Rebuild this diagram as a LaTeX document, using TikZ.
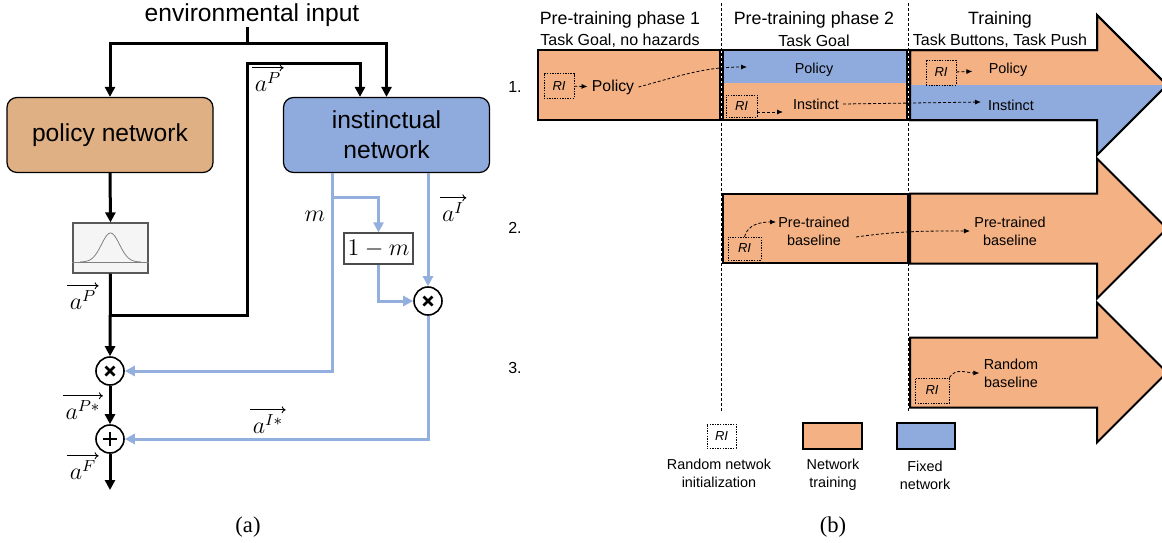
\documentclass[tikz,border=0pt]{standalone}
\usepackage[no-math]{fontspec}
\setmainfont{Liberation Sans}
\newfontfamily\capfont{Liberation Serif}
\usetikzlibrary{
    arrows.meta,
    calc,
    positioning
}

\definecolor{policytan}{RGB}{223,176,131}
\definecolor{instblue}{RGB}{143,170,220}
\definecolor{wireblue}{RGB}{147,175,221}
\definecolor{trainorange}{RGB}{244,177,131}
\definecolor{fixedblue}{RGB}{143,170,220}

\tikzset{
    net/.style={draw, rounded corners=5pt, line width=0.6pt, minimum width=103pt,
        minimum height=37.5pt, align=center, font=\fontsize{12.3}{15}\selectfont},
    blk/.style={line width=1.5pt, -{Triangle[length=5pt,width=5pt]}},
    blu/.style={line width=1.5pt, wireblue, -{Triangle[length=5pt,width=5pt]}},
    op/.style={draw, circle, minimum size=14pt, inner sep=0pt, line width=0.8pt, fill=white},
    vec/.style={inner sep=0pt, font=\fontsize{12}{14}\selectfont},
    vecarr/.style={line width=0.45pt, -{To[length=2pt,width=3.5pt]}},
    phase/.style={inner sep=0pt, font=\fontsize{8.9}{10}\selectfont},
    task/.style={inner sep=0pt, font=\fontsize{8}{9}\selectfont},
    inlbl/.style={inner sep=2pt, align=center, font=\fontsize{7.2}{9}\selectfont},
    ri/.style={draw, dash pattern=on 0.7pt off 0.6pt, line width=0.4pt, inner sep=0pt,
        minimum width=15pt, minimum height=12.5pt, font=\fontsize{6.5}{7}\selectfont\itshape},
    dasharr/.style={dash pattern=on 1.5pt off 1pt, line width=0.4pt, -{Latex[length=3pt,width=2.5pt]}},
    stagebox/.style={draw, line width=1pt, inner sep=0pt},
}

\begin{document}
\begin{tikzpicture}[x=0.5pt, y=-0.5pt]
\useasboundingbox (0,0) rectangle (1162,542);

% ---------- (a) ----------
\node[inner sep=0pt, font=\fontsize{12.3}{14}\selectfont] (env) at (252,15) {environmental input};
\coordinate (split) at (247,43);
\node[net, fill=policytan] (policy) at (110,135) {policy network};
\node[net, fill=instblue] (instinct) at (386.5,135) {instinctual\\network};
\node[draw=gray!70!black, fill=gray!8, line width=0.6pt, inner sep=0pt,
    minimum width=37.5pt, minimum height=25pt] (gauss) at (110.5,248) {};
\draw[gray, line width=0.4pt] ($(gauss.south west)+(0,-11)$) -- ($(gauss.south east)+(0,-11)$);
\draw[gray, line width=0.4pt] plot[domain=-30:30, samples=50, smooth]
    ({110.5+\x}, {262-29*exp(-\x*\x/162)});

\node[op] (mul1) at (110,371) {};
\node[op] (plus) at (110,439) {};
\node[op] (mul2) at (428,301) {};
\foreach \n in {mul1, mul2}
    \draw[line width=1.4pt] ($(\n)+(-4.5,-4.5)$) -- ($(\n)+(4.5,4.5)$)
        ($(\n)+(-4.5,4.5)$) -- ($(\n)+(4.5,-4.5)$);
\draw[line width=1.4pt] ($(plus)+(-7,0)$) -- ($(plus)+(7,0)$)
    ($(plus)+(0,-7)$) -- ($(plus)+(0,7)$);
\node[draw=gray!60!black, fill=white, line width=0.6pt, inner sep=0pt,
    minimum width=34.5pt, minimum height=15.5pt, font=\fontsize{12}{14}\selectfont]
    (onem) at (378.5,248.5) {$1-m$};

\coordinate (pjoin) at (110,315);
\coordinate (ploop) at (247,63);
\coordinate (aout) at (110,490);
\coordinate (mtap) at ($(instinct.south west)+(50,0)$);

\draw[line width=1.5pt] (split |- env.south) -- (split);
\draw[blk] (split) -| (policy.north);
\draw[blk] (split) -| (instinct.north);
\draw[blk] (pjoin) -| (ploop) -| ($(instinct.north)+(-26.5,0)$);
\draw[blk] (policy.south) -- (gauss.north);
\draw[blk] (gauss.south) -- (mul1.north);
\draw[blk] (mul1.south) -- (plus.north);
\draw[blk] (plus.south) -- (aout);

\draw[blu] (mtap) |- (mul1.east);
\draw[blu] ($(mtap)+(0,24)$) -| (onem.north);
\draw[blu] (onem.south) |- (mul2.west);
\draw[blu] (instinct.south -| mul2) -- (mul2.north);
\draw[blu] (mul2.south) |- (plus.east);

% vector labels
\node[vec] (lap1) at (268,82) {$a^P$};
\node[vec] (lap2) at (83,300) {$a^P$};
\node[vec] (lapx) at (83,410) {$a^{P*}$};
\node[vec] (laf) at (83,470) {$a^F$};
\node[vec] (lai) at (453,212) {$a^I$};
\node[vec] (laix) at (268,424) {$a^{I*}$};
\foreach \n in {lap1, lap2, lapx, laf, lai, laix}
    \draw[vecarr] ([xshift=-1pt, yshift=2pt]\n.north west) -- ([xshift=1pt, yshift=2pt]\n.north east);
\node[vec] (lm) at (315,216) {$m$};
\node[inner sep=0pt, font=\capfont\fontsize{11.3}{13}\selectfont] (capa) at (248,527) {(a)};

% ---------- (b) ----------
\foreach \x in {721, 908}
    \draw[dash pattern=on 1.5pt off 1pt, line width=0.5pt] (\x,3) -- (\x,413);

\node[phase] (h1) at (620,20) {Pre-training phase 1};
\node[task] (t1) at (620,41) {Task Goal, no hazards};
\node[phase] (h2) at (814,20) {Pre-training phase 2};
\node[task] (t2) at (814,41) {Task Goal};
\node[phase] (h3) at (1000,20) {Training};
\node[task] (t3) at (1000,41) {Task Buttons, Task Push};

\node[task] (n1) at (515,87) {1.};
\node[task] (n2) at (515,228) {2.};
\node[task] (n3) at (515,368) {3.};

% stage arrows
\foreach \my in {85, 228.5, 372.5}
    \draw[fill=trainorange, line width=1pt] (910,\my-35) -- (1097,\my-35) -- (1097,\my-70)
        -- (1167,\my) -- (1097,\my+70) -- (1097,\my+35) -- (910,\my+35) -- cycle;
\begin{scope}
    \clip (910,50) -- (1097,50) -- (1097,15) -- (1167,85) -- (1097,155) -- (1097,120) -- (910,120) -- cycle;
    \fill[fixedblue] (900,85) rectangle (1170,160);
\end{scope}
\draw[line width=1pt] (910,50) -- (1097,50) -- (1097,15) -- (1167,85) -- (1097,155)
    -- (1097,120) -- (910,120) -- cycle;

% row 1
\node[stagebox, fill=trainorange, minimum width=91pt, minimum height=35pt] (p1a) at (629,85) {};
\fill[fixedblue] (723,50) rectangle (907,83);
\fill[trainorange] (723,83) rectangle (907,120);
\draw[line width=1pt] (723,50) rectangle (907,120);

\node[ri] (ri1) at (559,86) {RI};
\node[inlbl, font=\fontsize{7.9}{9}\selectfont] (pol1) at (613,87) {Policy};
\node[inlbl] (pol2) at (814,70) {Policy};
\node[ri, minimum width=15.5pt, minimum height=11pt] (ri2) at (741.5,106) {RI};
\node[inlbl] (ins2) at (816,104) {Instinct};
\node[ri] (ri3) at (941,72.5) {RI};
\node[inlbl] (pol3) at (1008,70) {Policy};
\node[inlbl] (ins3) at (1011,105) {Instinct};
\coordinate (c1) at (747,67);
\coordinate (c2) at (783,112);
\coordinate (c3) at (981,102);

\draw[dasharr] (ri1) -- (pol1);
\draw[dasharr] (pol1.east) to[out=15,in=180] (c1);
\draw[dasharr] (ri2.east |- c2) -- (c2);
\draw[dasharr] (ins2.east) -- (c3);
\draw[dasharr, shorten >=6pt] (ri3) -- (pol3);

% row 2
\node[stagebox, fill=trainorange, minimum width=92.5pt, minimum height=34.5pt] (p2b) at (815.5,228.5) {};
\node[ri, minimum width=16.5pt, minimum height=11.5pt] (ri4) at (744.5,248.5) {RI};
\node[inlbl] (pre2) at (814,231) {Pre-trained\\baseline};
\node[inlbl] (pre3) at (1010,231) {Pre-trained\\baseline};
\coordinate (c4) at (776,222);
\draw[dasharr] (ri4.north) to[out=75,in=180] (c4);
\draw[dasharr] ($(pre2.east)+(2,6)$) to[out=8,in=180] (pre3.west);

% row 3
\node[ri, minimum width=17pt] (ri5) at (932,390.5) {RI};
\node[inlbl] (rand) at (1011,373) {Random\\baseline};
\draw[dasharr] (ri5.north east) to[out=60,in=180] (rand.west);

% legend
\node[ri, minimum width=14.5pt, minimum height=12pt] (rileg) at (721.5,436) {RI};
\node[stagebox, fill=trainorange, minimum width=29.5pt, minimum height=13pt] (trleg) at (832.5,436) {};
\node[stagebox, fill=fixedblue, minimum width=29pt, minimum height=13pt] (fxleg) at (926,436) {};
\node[inlbl] (rilbl) at (719,473) {Random netwok\\initialization};
\node[inlbl] (trlbl) at (833,475) {Network\\training};
\node[inlbl] (fxlbl) at (925,475) {Fixed\\network};
\node[inner sep=0pt, font=\capfont\fontsize{11.3}{13}\selectfont] (capb) at (833,527) {(b)};
\end{tikzpicture}
\end{document}
